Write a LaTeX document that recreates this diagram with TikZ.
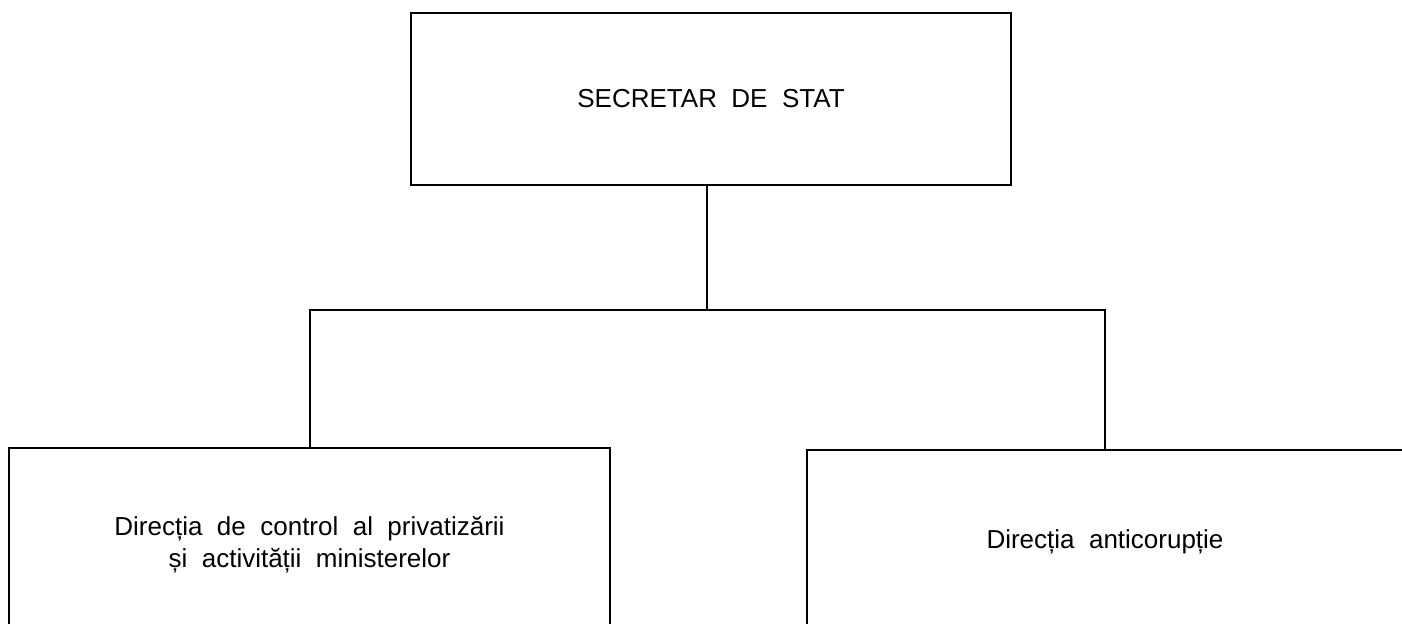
\documentclass[tikz,border=0pt]{standalone}
\usepackage{fontspec}
\setmainfont{Liberation Sans}[WordSpace=2.0]
\tikzset{
    org-box/.style = {draw=black, fill=white, line width=1pt, rectangle, inner sep=0pt, align=center, font=\fontsize{13}{16}\selectfont},
    org-line/.style = {draw=black, line width=1pt},
}
\begin{document}
\begin{tikzpicture}[x=0.5pt, y=-0.5pt]
\clip (0,0) rectangle (1402,624);
\node [org-box, minimum width=300pt, minimum height=86pt] (secretar) at (711,99) {SECRETAR DE STAT};
\node [org-box, minimum width=300.5pt, minimum height=97pt] (dir-control) at (309.5,545) {Direcția de control al privatizării\\și activității ministerelor};
\node [org-box, minimum width=298pt, minimum height=92pt] (dir-anticor) at (1105,542) {Direcția anticorupție};
\coordinate (bus) at (707,310);
\draw [org-line] (secretar.south -| bus) -- (bus);
\draw [org-line] (dir-control.north) |- (bus) -| (dir-anticor.north);
\end{tikzpicture}
\end{document}
